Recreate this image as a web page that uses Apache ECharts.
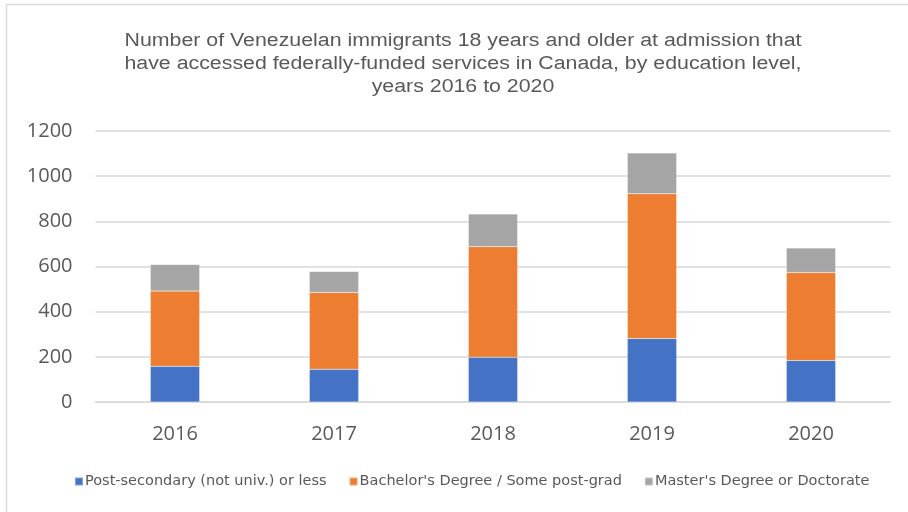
<!DOCTYPE html>
<html>
<head>
<meta charset="utf-8">
<script src="https://cdn.jsdelivr.net/npm/echarts@6/dist/echarts.min.js"></script>
<style>
  html, body { margin: 0; padding: 0; background: #ffffff; }
  #chart { width: 908px; height: 512px; }
</style>
</head>
<body>
<div id="chart"></div>
<script>
// Years shown on the category axis
const years = ['2016', '2017', '2018', '2019', '2020'];

// Stacked segments per education level
const postSecondary = [158, 145, 198, 281, 184];
const bachelors = [333, 340, 490, 641, 389];
const masters = [118, 93, 144, 181, 109];

const seriesNames = [
  'Post-secondary (not univ.) or less',
  "Bachelor's Degree / Some post-grad",
  "Master's Degree or Doctorate"
];
const colors = ['#4472c4', '#ed7d31', '#a5a5a5'];

const titleLines = [
  'Number of Venezuelan immigrants 18 years and older at admission that',
  'have accessed federally-funded services in Canada, by education level,',
  'years 2016 to 2020'
];

const chart = echarts.init(document.getElementById('chart'), null, { renderer: 'canvas' });

function stackSeries(name, data, color) {
  return {
    name: name,
    type: 'bar',
    stack: 'total',
    data: data,
    barWidth: '31%',
    itemStyle: { color: color, borderColor: 'rgba(255,255,255,0.35)', borderWidth: 0.5 },
    emphasis: { disabled: true }
  };
}

// Title drawn as a slightly widened text block, one element per line
const titleGraphic = {
  type: 'group',
  x: 463,
  y: 0,
  scaleX: 1.185,
  silent: true,
  children: titleLines.map((line, i) => ({
    type: 'text',
    x: 0,
    y: 41 + i * 23,
    style: {
      text: line,
      textAlign: 'center',
      textVerticalAlign: 'middle',
      fill: '#595959',
      font: '18px "Liberation Sans", Arial, sans-serif'
    }
  }))
};

chart.setOption({
  animation: false,
  color: colors,
  graphic: [
    {
      type: 'rect',
      shape: { x: 6.5, y: 4.5, width: 1000, height: 1000 },
      style: { fill: 'none', stroke: '#d9d9d9', lineWidth: 1.5 },
      silent: true,
      z: -1
    },
    titleGraphic
  ],
  grid: { left: 95.5, right: 17.5, top: 131, bottom: 110, containLabel: false },
  xAxis: {
    type: 'category',
    data: years,
    axisLine: { show: true, lineStyle: { color: '#d9d9d9', width: 1.5 } },
    axisTick: { show: false },
    axisLabel: {
      color: '#595959',
      fontFamily: '"Open Sans", "Noto Sans", sans-serif',
      fontSize: 20,
      margin: 22
    }
  },
  yAxis: {
    type: 'value',
    min: 0,
    max: 1200,
    interval: 200,
    axisLine: { show: false },
    axisTick: { show: false },
    splitLine: { lineStyle: { color: '#d9d9d9', width: 1.5 } },
    axisLabel: {
      color: '#595959',
      fontFamily: '"Open Sans", "Noto Sans", sans-serif',
      fontSize: 20,
      margin: 23,
      formatter: (v) => String(v)
    }
  },
  legend: {
    bottom: 18,
    left: 69,
    itemWidth: 8,
    itemHeight: 8,
    itemGap: 22,
    icon: 'rect',
    textStyle: {
      color: '#595959',
      fontFamily: '"DejaVu Sans", sans-serif',
      fontSize: 14.5,
      padding: [0, 0, 0, -3]
    },
    data: seriesNames
  },
  series: [
    stackSeries(seriesNames[0], postSecondary, colors[0]),
    stackSeries(seriesNames[1], bachelors, colors[1]),
    stackSeries(seriesNames[2], masters, colors[2])
  ]
});
</script>
</body>
</html>
